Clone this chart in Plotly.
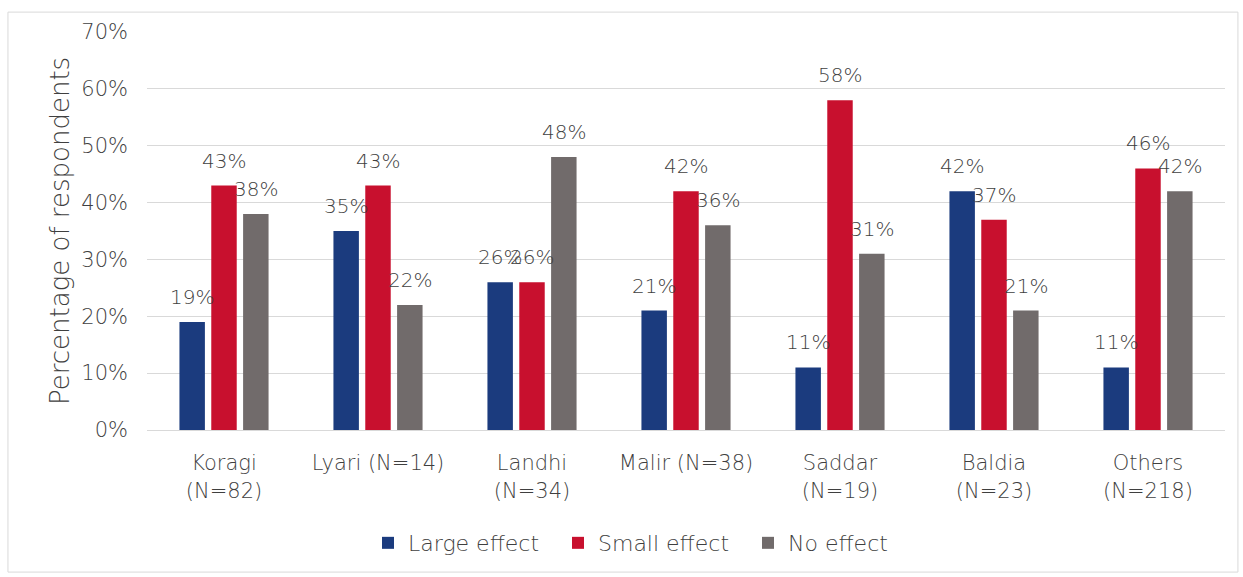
import plotly.graph_objects as go

categories = ["Koragi<br>(N=82)", "Lyari (N=14)", "Landhi<br>(N=34)", "Malir (N=38)",
              "Saddar<br>(N=19)", "Baldia<br>(N=23)", "Others<br>(N=218)"]
large_effect = [19, 35, 26, 21, 11, 42, 11]
small_effect = [43, 43, 26, 42, 58, 37, 46]
no_effect = [38, 22, 48, 36, 31, 21, 42]
y_ticks = [0, 10, 20, 30, 40, 50, 60, 70]

FONT = "DejaVu Sans"
WEIGHT = 300
TXT = "#3f3f3f"

series = [
    ("Large effect", large_effect, "#1b3b7e"),
    ("Small effect", small_effect, "#c8102e"),
    ("No effect", no_effect, "#716b6b"),
]

W, H = 1243, 577
ML, MR, MT, MB = 147, 18, 32, 147
BARGAP = 0.38

# pixel geometry of one bar slot inside a category group, used to centre value labels
cat_w = (W - ML - MR) / len(categories)
slot_w = cat_w * (1 - BARGAP) / len(series)


def font(size):
    return dict(family=FONT, size=size, color=TXT, weight=WEIGHT)


fig = go.Figure()
annotations = []
for i, (name, vals, color) in enumerate(series):
    fig.add_trace(go.Bar(
        name=name, x=categories, y=[v / 100 for v in vals],
        marker=dict(color=color, line=dict(width=0)),
        cliponaxis=False,
    ))
    offset = (i - (len(series) - 1) / 2) * slot_w
    for cat, v in zip(categories, vals):
        annotations.append(dict(
            x=cat, y=v / 100, xref="x", yref="y", text=f"{v}%",
            showarrow=False, xshift=offset, yshift=25, yanchor="middle",
            font=font(20),
        ))

fig.update_layout(
    width=W, height=H,
    margin=dict(l=ML, r=MR, t=MT, b=MB, autoexpand=False),
    paper_bgcolor="white", plot_bgcolor="white",
    barmode="group", bargap=BARGAP, bargroupgap=0.2,
    font=font(18),
    showlegend=True,
    legend=dict(orientation="h", x=0.205, xanchor="left", y=-0.284, yanchor="middle",
                font=font(22), traceorder="normal",
                entrywidth=145, entrywidthmode="pixels"),
    annotations=annotations,
    shapes=[dict(type="rect", xref="paper", yref="paper", x0=-0.129, x1=1.012,
                 y0=-0.357, y1=1.05, line=dict(color="#d9d9d9", width=1),
                 layer="below")],
)
fig.update_yaxes(
    range=[0, 0.7], tickvals=[t / 100 for t in y_ticks],
    ticktext=[f"{t}%" for t in y_ticks],
    tickfont=font(21),
    showgrid=True, gridcolor="#d9d9d9", gridwidth=1, zeroline=False,
    showline=False, ticks="", ticklabelstandoff=18, automargin=False,
    title=dict(text="Percentage of respondents", font=font(26), standoff=4),
)
fig.update_xaxes(
    tickfont=font(21),
    showline=True, linecolor="#d9d9d9", linewidth=1, ticks="",
    ticklabelstandoff=14, automargin=False,
)

fig.write_html("out.html")
